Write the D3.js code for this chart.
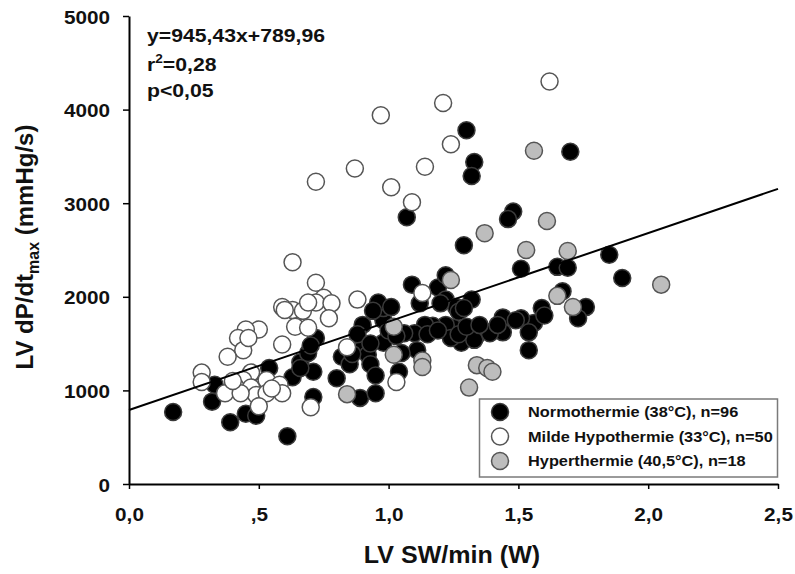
<!DOCTYPE html>
<html>
<head>
<meta charset="utf-8">
<script src="https://cdn.jsdelivr.net/npm/d3@7"></script>
<style>
  html, body { margin: 0; padding: 0; background: #fff; }
  svg text { font-family: 'Liberation Sans', Arial, sans-serif; font-weight: bold; fill: #111; }
</style>
</head>
<body>
<svg id="chart" width="795" height="574"></svg>
<script>
// Normothermie (38°C) - [LV SW/min, LV dP/dt max]
const normoData = [
  [1.30, 3780], [1.33, 3440], [1.32, 3290], [1.70, 3550], [1.07, 2850], [1.48, 2910],
  [1.46, 2830], [1.29, 2550], [1.85, 2450], [1.90, 2200], [1.51, 2300], [1.65, 2320],
  [1.69, 2310], [1.67, 2060], [1.76, 1890], [1.73, 1770], [1.59, 1880], [1.56, 1720],
  [1.51, 1770], [1.54, 1620], [1.54, 1430], [1.44, 1780], [1.49, 1750], [1.44, 1620],
  [1.36, 1650], [1.33, 1620], [1.34, 1590], [1.28, 1650], [1.28, 1510], [1.33, 1540],
  [1.25, 1670], [1.22, 1700], [1.24, 1560], [1.17, 1690], [1.14, 1700], [1.10, 1610],
  [1.11, 1430], [1.06, 1610], [0.98, 1750], [0.98, 1880], [0.96, 1940], [0.98, 1510],
  [0.90, 1700], [0.90, 1450], [0.92, 1380], [0.93, 1280], [0.95, 1160], [1.04, 1200],
  [0.82, 1360], [0.85, 1280], [0.80, 1130], [0.89, 920], [0.95, 970], [1.09, 2130],
  [1.19, 2100], [1.22, 2230], [1.12, 1930], [1.22, 1970], [1.32, 1970], [1.26, 1890],
  [1.27, 1840], [0.17, 770], [0.32, 880], [0.33, 1060], [0.39, 660], [0.45, 750],
  [0.49, 730], [0.61, 510], [0.54, 1240], [0.66, 1300], [0.69, 1400], [0.72, 1560],
  [0.63, 1140], [0.71, 1200], [0.71, 930], [1.00, 1640], [1.03, 1580], [1.15, 1600],
  [1.19, 1640], [1.27, 1600], [1.30, 1680], [1.39, 1610], [1.42, 1700], [1.05, 1400],
  [0.88, 1600], [0.94, 1850], [1.20, 1930], [1.29, 1880], [0.86, 1390], [0.93, 1500],
  [1.01, 1890], [0.70, 1480], [0.66, 1240], [1.35, 1700], [1.60, 1800], [0.47, 1180]
];

// Milde Hypothermie (33°C)
const mildData = [
  [1.62, 4300], [1.21, 4070], [0.97, 3940], [1.24, 3630], [1.14, 3390], [0.87, 3370],
  [0.72, 3230], [1.01, 3170], [1.09, 3010], [0.63, 2370], [0.72, 2150], [0.75, 1990],
  [0.72, 1940], [0.78, 1930], [0.88, 1970], [0.59, 1890], [0.63, 1860], [0.67, 1850],
  [0.77, 1770], [0.64, 1680], [0.69, 1670], [0.50, 1650], [0.45, 1650], [0.42, 1560],
  [0.44, 1430], [0.38, 1360], [0.59, 1490], [0.84, 1460], [1.13, 2040], [0.28, 1190],
  [0.28, 1090], [0.47, 1190], [0.44, 1110], [0.53, 1110], [0.58, 1060], [0.59, 970],
  [0.41, 1040], [0.37, 970], [0.47, 1030], [0.49, 950], [0.53, 970], [0.50, 830],
  [0.70, 820], [1.03, 1090], [0.43, 970], [0.55, 1020], [0.60, 1860], [0.69, 1940],
  [0.46, 1560], [0.40, 1100]
];

// Hyperthermie (40,5°C)
const hyperData = [
  [1.56, 3560], [1.61, 2810], [1.53, 2500], [1.69, 2490], [1.37, 2680], [2.05, 2130],
  [1.65, 2010], [1.71, 1890], [1.24, 2180], [1.02, 1680], [1.02, 1380], [1.13, 1320],
  [1.13, 1250], [1.34, 1270], [1.38, 1240], [1.40, 1200], [1.31, 1030], [0.84, 960]
];

const xTicks = [0, 0.5, 1.0, 1.5, 2.0, 2.5];
const xTickLabels = ['0,0', ',5', '1,0', '1,5', '2,0', '2,5'];
const yTicks = [0, 1000, 2000, 3000, 4000, 5000];

const slope = 945.43;
const intercept = 789.96;

const legendLabels = [
  'Normothermie (38°C), n=96',
  'Milde Hypothermie (33°C), n=50',
  'Hyperthermie (40,5°C), n=18'
];
const legendFills = ['#000', '#fff', '#bdbdbd'];

const svg = d3.select('#chart');

const x = d3.scaleLinear().domain([0, 2.5]).range([129, 778]);
const y = d3.scaleLinear().domain([0, 5000]).range([484, 16]);

// axes
const xAxis = svg.append('g')
  .attr('transform', 'translate(0,484)')
  .call(d3.axisBottom(x).tickValues(xTicks).tickSize(5).tickSizeOuter(0).tickPadding(19)
    .tickFormat((d, i) => xTickLabels[i]));
xAxis.select('.domain').attr('stroke-width', 2);
xAxis.selectAll('.tick line').attr('stroke-width', 1.5);
xAxis.selectAll('.tick text')
  .attr('font-size', 18.5)
  .attr('transform', 'scale(1.12,1)')
  .attr('fill', '#111');

const yAxis = svg.append('g')
  .attr('transform', 'translate(129,0)')
  .call(d3.axisLeft(y).tickValues(yTicks).tickSize(6).tickSizeOuter(0).tickFormat(d3.format('d')));
yAxis.select('.domain').attr('stroke-width', 2);
yAxis.selectAll('.tick line').attr('stroke-width', 1.5);
yAxis.selectAll('.tick text')
  .attr('font-size', 18.5)
  .attr('x', 0)
  .attr('dy', '0.38em')
  .attr('transform', 'translate(-19,0) scale(1.12,1)')
  .attr('fill', '#111');

svg.selectAll('.tick text').style('font-weight', 'bold');

// points
const groups = [
  { data: normoData, fill: '#000', stroke: '#3a3a3a' },
  { data: mildData, fill: '#fff', stroke: '#555' },
  { data: hyperData, fill: '#bdbdbd', stroke: '#555' }
];

groups.forEach((g) => {
  svg.append('g')
    .selectAll('circle')
    .data(g.data)
    .enter()
    .append('circle')
    .attr('cx', (d) => x(d[0]))
    .attr('cy', (d) => y(d[1]))
    .attr('r', 8.5)
    .attr('fill', g.fill)
    .attr('stroke', g.stroke)
    .attr('stroke-width', 1.5);
});

// regression line
svg.append('line')
  .attr('x1', x(0))
  .attr('y1', y(intercept))
  .attr('x2', x(2.5))
  .attr('y2', y(slope * 2.5 + intercept))
  .attr('stroke', '#000')
  .attr('stroke-width', 2);

// regression stats
const stats = svg.append('g');
const statLine = (txt, yy) => stats.append('text')
  .attr('font-size', 18.6)
  .attr('transform', `translate(147,${yy}) scale(1.14,1)`);

statLine('', 41.5).text('y=945,43x+789,96');
const r2 = statLine('', 71);
r2.append('tspan').text('r');
r2.append('tspan').attr('font-size', 12).attr('dy', -8).text('2');
r2.append('tspan').attr('dy', 8).text('=0,28');
statLine('', 97).text('p<0,05');

// axis titles
svg.append('text')
  .attr('font-size', 23)
  .attr('text-anchor', 'middle')
  .attr('transform', 'translate(452,563) scale(1.09,1)')
  .text('LV SW/min (W)');

const yTitle = svg.append('text')
  .attr('font-size', 24)
  .attr('text-anchor', 'middle')
  .attr('transform', 'translate(33,247) rotate(-90)');
yTitle.append('tspan').text('LV dP/dt');
yTitle.append('tspan').attr('font-size', 16).attr('dy', 6).text('max');
yTitle.append('tspan').attr('dy', -6).text(' (mmHg/s)');

// legend
const legend = svg.append('g');
legend.append('rect')
  .attr('x', 479.5)
  .attr('y', 399)
  .attr('width', 298)
  .attr('height', 78)
  .attr('fill', '#fff')
  .attr('stroke', '#7a7a7a')
  .attr('stroke-width', 1.5);

legend.selectAll('circle')
  .data(legendLabels)
  .enter()
  .append('circle')
  .attr('cx', 500)
  .attr('cy', (d, i) => 412 + i * 24.5)
  .attr('r', 8.5)
  .attr('fill', (d, i) => legendFills[i])
  .attr('stroke', (d, i) => (i === 0 ? '#3a3a3a' : '#555'))
  .attr('stroke-width', 1.5);

legend.selectAll('text')
  .data(legendLabels)
  .enter()
  .append('text')
  .attr('font-size', 15)
  .attr('transform', (d, i) => `translate(528,${417.3 + i * 24.4}) scale(1.09,1)`)
  .text((d) => d);
</script>
</body>
</html>
